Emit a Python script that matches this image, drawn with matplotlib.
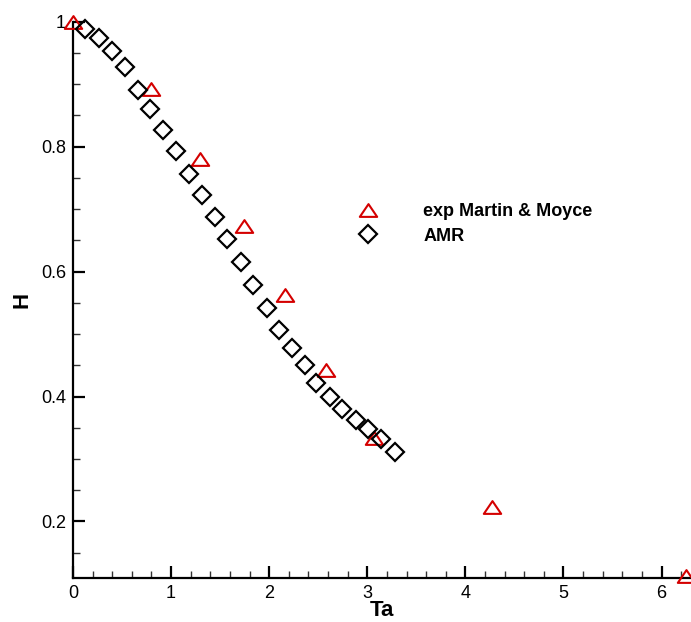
import matplotlib
matplotlib.use("Agg")
import matplotlib.pyplot as plt
from matplotlib.path import Path
from matplotlib.ticker import MultipleLocator, FixedLocator, FuncFormatter

plt.rcParams['font.family'] = ['Liberation Sans', 'DejaVu Sans']

# Experimental data (Martin & Moyce)
exp_ta = [0.0, 0.80, 1.29, 1.74, 2.16, 2.58, 3.07, 4.27, 6.25]
exp_h = [1.0, 0.892, 0.781, 0.673, 0.563, 0.443, 0.334, 0.223, 0.112]

# AMR simulation
amr_ta = [0.122, 0.268, 0.397, 0.526, 0.659, 0.787, 0.922, 1.049, 1.181, 1.311,
          1.446, 1.575, 1.708, 1.836, 1.973, 2.101, 2.233, 2.363, 2.482, 2.617,
          2.746, 2.882, 3.007, 3.144, 3.279]
amr_h = [0.988, 0.974, 0.953, 0.927, 0.891, 0.860, 0.827, 0.793, 0.756, 0.723,
         0.688, 0.652, 0.616, 0.579, 0.541, 0.506, 0.477, 0.451, 0.421, 0.400,
         0.380, 0.362, 0.348, 0.332, 0.312]

x_ticks = [0, 1, 2, 3, 4, 5, 6]
y_ticks = [0.2, 0.4, 0.6, 0.8, 1.0]

fig = plt.figure(figsize=(6.91, 6.22), dpi=100)
ax = fig.add_axes([73/691, 44.3/622, 618/691, 556/622])

tri = Path([(-1, -0.735), (1, -0.735), (0, 0.735), (-1, -0.735)],
           [Path.MOVETO, Path.LINETO, Path.LINETO, Path.CLOSEPOLY])
red = '#d40000'

ax.plot(exp_ta, exp_h, linestyle='none', marker=tri, markersize=12.5,
        markerfacecolor='none', markeredgecolor=red, markeredgewidth=1.5,
        clip_on=False, label='exp Martin & Moyce', zorder=3)
ax.plot(amr_ta, amr_h, linestyle='none', marker='D', markersize=9.5,
        markerfacecolor='none', markeredgecolor='black', markeredgewidth=1.6,
        clip_on=False, label='AMR', zorder=4)

ax.set_xlim(0, 6.3)
ax.set_ylim(0.11, 1.0)

for s in ['top', 'right']:
    ax.spines[s].set_visible(False)
for s in ['left', 'bottom']:
    ax.spines[s].set_linewidth(1.6)

ax.xaxis.set_major_locator(FixedLocator(x_ticks))
ax.xaxis.set_minor_locator(MultipleLocator(0.2))
ax.yaxis.set_major_locator(FixedLocator(y_ticks))
ax.yaxis.set_minor_locator(MultipleLocator(0.05))
ax.yaxis.set_major_formatter(FuncFormatter(lambda v, p: '1' if abs(v - 1) < 1e-9 else f'{v:.1f}'))

ax.tick_params(which='major', direction='in', length=8.6, width=1.6,
               labelsize=13, pad=5, colors='black')
ax.tick_params(which='minor', direction='in', length=5, width=1.0, color='#333333')

ax.set_xlabel('Ta', fontsize=16, fontweight='bold', labelpad=-1)
ax.set_ylabel('H', fontsize=16, fontweight='bold', labelpad=6)

leg = ax.legend(loc='upper left',
                bbox_to_anchor=((351 - 73) / 618, 1 - (203 - 21.7) / 556),
                frameon=False, numpoints=1, handlelength=1.85, handletextpad=2.15,
                labelspacing=0.42, borderpad=0, borderaxespad=0,
                prop={'weight': 'bold', 'size': 13})

fig.savefig('out.png', dpi=100)
